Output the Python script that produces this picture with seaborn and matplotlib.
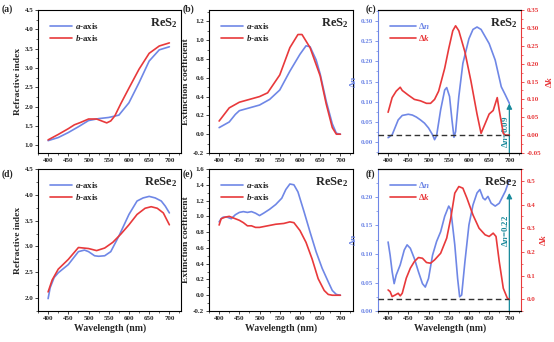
import matplotlib
matplotlib.use("Agg")
import matplotlib.pyplot as plt
from matplotlib.ticker import AutoMinorLocator
from matplotlib.lines import Line2D
import numpy as np
import pandas as pd
import seaborn as sns

# ---------------- data ----------------
# (a) ReS2 refractive index
a_n_res2_x = [400, 425, 450, 475, 500, 525, 550, 575, 600, 625, 650, 675, 700]
a_n_res2_y = [1.12, 1.20, 1.33, 1.48, 1.64, 1.69, 1.72, 1.78, 2.10, 2.62, 3.18, 3.47, 3.55]
b_n_res2_x = [400, 425, 450, 465, 480, 500, 520, 535, 545, 555, 565, 580, 600, 625, 650, 675, 700]
b_n_res2_y = [1.14, 1.28, 1.43, 1.53, 1.59, 1.68, 1.68, 1.62, 1.58, 1.63, 1.76, 2.08, 2.48, 2.97, 3.38, 3.57, 3.65]

# (b) ReS2 extinction coefficient
a_k_res2_x = [400, 425, 440, 450, 475, 500, 525, 550, 575, 600, 615, 625, 640, 650, 665, 680, 690, 700]
a_k_res2_y = [0.07, 0.13, 0.21, 0.25, 0.28, 0.31, 0.37, 0.47, 0.67, 0.85, 0.94, 0.93, 0.79, 0.64, 0.35, 0.11, 0.01, 0.00]
b_k_res2_x = [400, 425, 450, 475, 500, 520, 550, 575, 595, 605, 625, 650, 665, 680, 690, 700]
b_k_res2_y = [0.14, 0.28, 0.34, 0.37, 0.40, 0.44, 0.63, 0.92, 1.06, 1.06, 0.92, 0.62, 0.32, 0.07, 0.00, 0.00]

# (c) ReS2 birefringence / dichroism
dn_res2_x = [400, 410, 425, 435, 450, 460, 470, 480, 490, 500, 510, 515, 520, 530, 540, 545, 552, 558, 563,
             567, 575, 585, 600, 610, 620, 630, 650, 665, 680, 690, 700]
dn_res2_y = [0.011, 0.018, 0.055, 0.066, 0.069, 0.067, 0.062, 0.055, 0.047, 0.035, 0.018, 0.006, 0.016, 0.080,
             0.129, 0.135, 0.113, 0.055, 0.012, 0.026, 0.113, 0.195, 0.256, 0.279, 0.285, 0.279, 0.244, 0.203,
             0.137, 0.117, 0.096]
dk_res2_x = [400, 410, 420, 430, 435, 450, 465, 480, 495, 505, 515, 525, 540, 550, 560, 567, 575, 590, 605,
             620, 630, 640, 650, 660, 670, 675, 685, 690, 700]
dk_res2_y = [0.064, 0.105, 0.123, 0.134, 0.125, 0.112, 0.100, 0.096, 0.089, 0.089, 0.100, 0.123, 0.187, 0.242,
             0.292, 0.306, 0.292, 0.233, 0.151, 0.059, 0.005, 0.032, 0.059, 0.069, 0.105, 0.069, 0.005, 0.000, 0.000]

# (d) ReSe2 refractive index
a_n_rese2_x = [400, 405, 415, 425, 450, 475, 490, 500, 515, 525, 540, 555, 575, 600, 620, 635, 650, 665, 680, 690, 700]
a_n_rese2_y = [1.99, 2.20, 2.40, 2.49, 2.65, 2.90, 2.93, 2.90, 2.82, 2.81, 2.82, 2.90, 3.20, 3.62, 3.88, 3.94, 3.97,
               3.94, 3.88, 3.78, 3.65]
b_n_rese2_x = [400, 410, 425, 450, 475, 500, 520, 540, 560, 580, 600, 620, 640, 655, 670, 685, 700]
b_n_rese2_y = [2.12, 2.35, 2.56, 2.75, 2.98, 2.96, 2.92, 2.97, 3.08, 3.24, 3.42, 3.62, 3.74, 3.77, 3.74, 3.65, 3.42]

# (e) ReSe2 extinction coefficient
a_k_rese2_x = [400, 405, 410, 420, 430, 440, 450, 460, 470, 480, 490, 500, 510, 525, 540, 555, 565, 575, 585,
               595, 610, 625, 640, 655, 670, 680, 690, 700]
a_k_rese2_y = [0.93, 0.97, 0.99, 0.99, 0.97, 1.02, 1.05, 1.06, 1.05, 1.06, 1.04, 1.01, 1.04, 1.09, 1.15, 1.23,
               1.34, 1.41, 1.40, 1.31, 1.06, 0.80, 0.55, 0.34, 0.17, 0.06, 0.01, 0.00]
b_k_rese2_x = [400, 405, 415, 425, 435, 450, 460, 470, 480, 490, 500, 520, 540, 560, 575, 585, 600, 615, 630,
               645, 660, 670, 680, 700]
b_k_rese2_y = [0.89, 0.97, 0.99, 1.00, 0.98, 0.95, 0.92, 0.88, 0.88, 0.86, 0.86, 0.88, 0.90, 0.91, 0.93, 0.92,
               0.82, 0.67, 0.46, 0.21, 0.06, 0.01, 0.00, 0.00]

# (f) ReSe2 birefringence / dichroism
dn_rese2_x = [400, 405, 410, 415, 420, 430, 440, 447, 455, 465, 475, 485, 492, 500, 510, 520, 530, 540, 550, 555,
              565, 572, 577, 582, 590, 600, 610, 620, 627, 635, 640, 647, 655, 665, 675, 690, 700]
dn_rese2_y = [0.121, 0.098, 0.069, 0.048, 0.063, 0.081, 0.107, 0.116, 0.110, 0.092, 0.069, 0.048, 0.042, 0.057,
              0.098, 0.122, 0.139, 0.166, 0.184, 0.178, 0.116, 0.057, 0.025, 0.028, 0.086, 0.151, 0.186, 0.207,
              0.213, 0.198, 0.195, 0.201, 0.189, 0.184, 0.189, 0.210, 0.230]
dk_rese2_x = [400, 405, 410, 418, 425, 430, 435, 445, 455, 465, 475, 485, 495, 505, 515, 530, 545, 555, 565, 575,
              585, 595, 610, 625, 640, 650, 660, 667, 675, 685, 695, 700]
dk_rese2_y = [0.039, 0.032, 0.011, 0.018, 0.025, 0.014, 0.025, 0.089, 0.131, 0.159, 0.176, 0.173, 0.155, 0.152,
              0.166, 0.194, 0.258, 0.342, 0.448, 0.476, 0.469, 0.427, 0.356, 0.300, 0.272, 0.265, 0.279, 0.265,
              0.159, 0.046, 0.004, 0.000]

dn_max_res2 = 0.096
dn_max_rese2 = 0.207
labels_axis = ["$a$-axis", "$b$-axis"]
labels_delta = ["Δ$n$", "Δ$k$"]

# ---------------- style ----------------
BLUE = "#6f87e6"
RED = "#e8393b"
TEAL = "#17899b"

sns.set_theme(style="ticks")
plt.rcParams.update({
    "font.family": ["Liberation Serif", "DejaVu Serif"],
    "font.weight": "bold",
    "axes.labelweight": "bold",
    "mathtext.fontset": "custom",
    "mathtext.rm": "Liberation Serif:bold",
    "mathtext.it": "Liberation Serif:italic:bold",
    "mathtext.bf": "Liberation Serif:bold",
    "axes.linewidth": 0.8,
    "axes.edgecolor": "black",
    "xtick.direction": "out",
    "ytick.direction": "out",
    "xtick.major.size": 2,
    "ytick.major.size": 2,
    "xtick.minor.size": 1.2,
    "ytick.minor.size": 1.2,
    "xtick.major.width": 0.6,
    "ytick.major.width": 0.6,
    "xtick.minor.width": 0.5,
    "ytick.minor.width": 0.5,
    "xtick.labelsize": 5,
    "ytick.labelsize": 5,
    "xtick.major.pad": 1.5,
    "ytick.major.pad": 1.5,
})

fig = plt.figure(figsize=(5.54, 3.42), dpi=100)
W = 0.259
H_top, Y_top = 0.418, 0.5526
H_bot, Y_bot = 0.4152, 0.0906
X = [0.0686, 0.3773, 0.6823]

XLIM = (375, 730)
XT = [400, 450, 500, 550, 600, 650, 700]


def line(ax, x, y, color, label=None):
    df = pd.DataFrame({"wl": x, "v": y})
    sns.lineplot(data=df, x="wl", y="v", ax=ax, color=color, lw=1.2, label=label, legend=False)


def finish_x(ax, bottom):
    ax.set_xlim(*XLIM)
    ax.set_xticks(XT)
    ax.set_xticklabels([str(t) for t in XT])
    ax.xaxis.set_minor_locator(AutoMinorLocator(2))
    if bottom:
        ax.set_xlabel("Wavelength (nm)", fontsize=7, labelpad=2)
    else:
        ax.set_xlabel("")


def nk_panel(pos, xa, ya, xb, yb, ylim, yticks, fmt, ylabel, title, bottom):
    ax = fig.add_axes(pos)
    line(ax, xa, ya, BLUE, labels_axis[0])
    line(ax, xb, yb, RED, labels_axis[1])
    ax.set_ylim(*ylim)
    ax.set_yticks(yticks)
    ax.set_yticklabels([fmt.format(t) for t in yticks])
    ax.yaxis.set_minor_locator(AutoMinorLocator(2))
    ax.set_ylabel(ylabel, fontsize=6.8, labelpad=2)
    finish_x(ax, bottom)
    ax.legend(loc="upper left", frameon=False, fontsize=6.5, handlelength=2.4,
              borderaxespad=0.5, labelspacing=0.2, handletextpad=0.3,
              bbox_to_anchor=(0.03, 0.98))
    ax.text(0.97, 0.955, title, transform=ax.transAxes, ha="right", va="top", fontsize=9)
    return ax


def delta_panel(pos, xn, yn, xk, yk, ylimL, yticksL, fmtL, ylimR, yticksR, fmtR,
                dnmax, txt, txty, title, bottom):
    ax = fig.add_axes(pos)
    ax2 = ax.twinx()
    line(ax, xn, yn, BLUE)
    line(ax2, xk, yk, RED)
    ax.set_ylim(*ylimL)
    ax.set_yticks(yticksL)
    ax.set_yticklabels([fmtL.format(t) for t in yticksL])
    ax.yaxis.set_minor_locator(AutoMinorLocator(2))
    ax2.set_ylim(*ylimR)
    ax2.set_yticks(yticksR)
    ax2.set_yticklabels([fmtR.format(t).replace("-0.00", "0.00") for t in yticksR])
    ax2.yaxis.set_minor_locator(AutoMinorLocator(2))
    ax.set_ylabel(labels_delta[0], color=BLUE, fontsize=6.8, labelpad=2)
    ax2.set_ylabel(labels_delta[1], color=RED, fontsize=6.8, labelpad=2)
    ax.tick_params(axis="y", which="both", colors=BLUE)
    ax2.tick_params(axis="y", which="both", colors=RED)
    ax.spines["left"].set_color(BLUE)
    ax2.spines["left"].set_visible(False)
    ax.spines["right"].set_visible(False)
    ax2.spines["right"].set_color(RED)
    finish_x(ax, bottom)
    ax2.set_xlim(*XLIM)
    # dashed zero line of Δk
    ax2.hlines(0.0, XLIM[0], 700, colors="#333333", linestyles=(0, (4, 2.5)), lw=1.0)
    # arrow showing max Δn at 700 nm
    ax.annotate("", xy=(700, dnmax), xytext=(700, ylimL[0]),
                arrowprops=dict(arrowstyle="-|>", color=TEAL, lw=0.9,
                                mutation_scale=8, shrinkA=0, shrinkB=0))
    ax.text(688, txty, txt, rotation=90, color=TEAL, ha="center", va="center", fontsize=6.3)
    ax.text(0.97, 0.955, title, transform=ax.transAxes, ha="right", va="top", fontsize=9)
    hs = [Line2D([], [], color=BLUE, lw=1.2), Line2D([], [], color=RED, lw=1.2)]
    leg = ax.legend(hs, labels_delta, loc="upper left", frameon=False, fontsize=6.5,
                    handlelength=2.8, borderaxespad=0.5, labelspacing=0.2, handletextpad=0.3,
                    bbox_to_anchor=(0.03, 0.98))
    for t, c in zip(leg.get_texts(), [BLUE, RED]):
        t.set_color(c)
    return ax


nk_panel([X[0], Y_top, W, H_top], a_n_res2_x, a_n_res2_y, b_n_res2_x, b_n_res2_y,
         (0.8, 4.5), [1.0, 1.5, 2.0, 2.5, 3.0, 3.5, 4.0, 4.5], "{:.1f}", "Refractive index", "ReS$_2$", False)
nk_panel([X[1], Y_top, W, H_top], a_k_res2_x, a_k_res2_y, b_k_res2_x, b_k_res2_y,
         (-0.2, 1.32), [-0.2, 0.0, 0.2, 0.4, 0.6, 0.8, 1.0, 1.2], "{:.1f}", "Extinction coefficient", "ReS$_2$", False)
delta_panel([X[2], Y_top, W, H_top], dn_res2_x, dn_res2_y, dk_res2_x, dk_res2_y,
            (-0.027, 0.327), [0.0, 0.05, 0.10, 0.15, 0.20, 0.25, 0.30], "{:.2f}",
            (-0.05, 0.35), [-0.05, 0.0, 0.05, 0.10, 0.15, 0.20, 0.25, 0.30, 0.35], "{:.2f}",
            dn_max_res2, "Δ$n$=0.09", 0.026, "ReS$_2$", False)

nk_panel([X[0], Y_bot, W, H_bot], a_n_rese2_x, a_n_rese2_y, b_n_rese2_x, b_n_rese2_y,
         (1.75, 4.5), [2.0, 2.5, 3.0, 3.5, 4.0, 4.5], "{:.1f}", "Refractive index", "ReSe$_2$", True)
nk_panel([X[1], Y_bot, W, H_bot], a_k_rese2_x, a_k_rese2_y, b_k_rese2_x, b_k_rese2_y,
         (-0.2, 1.6), [-0.2, 0.0, 0.2, 0.4, 0.6, 0.8, 1.0, 1.2, 1.4, 1.6], "{:.1f}", "Extinction coefficient", "ReSe$_2$", True)
delta_panel([X[2], Y_bot, W, H_bot], dn_rese2_x, dn_rese2_y, dk_rese2_x, dk_rese2_y,
            (0.0, 0.249), [0.0, 0.05, 0.10, 0.15, 0.20], "{:.2f}",
            (-0.05, 0.55), [0.0, 0.1, 0.2, 0.3, 0.4, 0.5], "{:.1f}",
            dn_max_rese2, "Δ$n$=0.22", 0.14, "ReSe$_2$", True)

# panel letters
for lbl, (px, py) in zip(["(a)", "(b)", "(c)", "(d)", "(e)", "(f)"],
                         [(2, 9), (183, 9), (366, 9), (2, 174), (183, 174), (366, 174)]):
    fig.text(px / 554, 1 - py / 342, lbl, fontsize=7, ha="left", va="center")

fig.savefig("out.png", dpi=100)
